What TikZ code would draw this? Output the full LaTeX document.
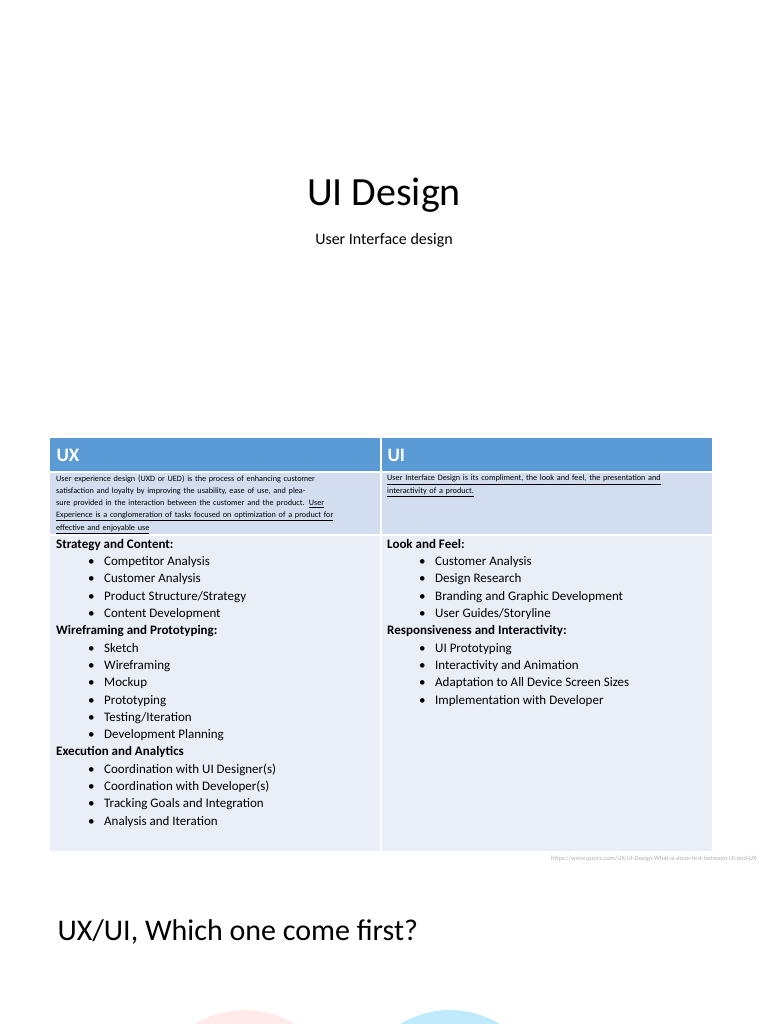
\documentclass[tikz,border=0pt]{standalone}
\usepackage{fontspec}
\setmainfont{Carlito}
\begin{document}
\begin{tikzpicture}[x=1pt,y=-1pt,
  hdr/.style={anchor=west,text=white,font=\fontsize{19}{22}\selectfont\bfseries},
  desc/.style={anchor=north west,align=left,text width=318pt,font=\fontsize{8.2}{12.2}\selectfont,inner sep=0pt},
  body/.style={anchor=north west,align=left,font=\fontsize{13}{17.3}\selectfont,inner sep=0pt}]
\useasboundingbox (0,0) rectangle (768,1024);
\fill[white] (0,0) rectangle (768,1024);
\begin{scope}
\clip (0,0) rectangle (768,1024);
\fill[pink!35] (245,1105) circle (95);
\fill[cyan!25] (450,1105) circle (95);
\end{scope}
\node (title) at (384,195) {\fontsize{40}{48}\selectfont UI Design};
\node (sub) at (384,240) {\fontsize{16}{19}\selectfont User Interface design};
% table
\fill[color={rgb,255:red,91;green,155;blue,213}] (50,438) rectangle (712,472);
\fill[color={rgb,255:red,210;green,222;blue,239}] (50,472) rectangle (712,535);
\fill[color={rgb,255:red,234;green,239;blue,247}] (50,535) rectangle (712,851);
\draw[white,line width=1.2pt] (381,438) -- (381,851);
\draw[white,line width=1.2pt] (50,472) -- (712,472) (50,535) -- (712,535);
\node[hdr] (ux) at (53,455) {UX};
\node[hdr] (ui) at (384,455) {UI};
\node[desc] (uxd) at (56,475) {User experience design (UXD or UED) is the process of enhancing customer satisfaction and loyalty by improving the usability, ease of use, and pleasure provided in the interaction between the customer and the product. \underline{User} \underline{Experience is a conglomeration of tasks focused on optimization of a product for} \underline{effective and enjoyable use}};
\node[desc] (uid) at (387,475) {\underline{User Interface Design is its compliment, the look and feel, the presentation and} \underline{interactivity of a product.}};
\def\it#1{\hspace*{32pt}\makebox[16pt][l]{\textbullet}#1}
\node[body] (uxb) at (56,539) {%
\textbf{Strategy and Content:}\\
\it{Competitor Analysis}\\
\it{Customer Analysis}\\
\it{Product Structure/Strategy}\\
\it{Content Development}\\
\textbf{Wireframing and Prototyping:}\\
\it{Sketch}\\
\it{Wireframing}\\
\it{Mockup}\\
\it{Prototyping}\\
\it{Testing/Iteration}\\
\it{Development Planning}\\
\textbf{Execution and Analytics}\\
\it{Coordination with UI Designer(s)}\\
\it{Coordination with Developer(s)}\\
\it{Tracking Goals and Integration}\\
\it{Analysis and Iteration}};
\node[body] (uib) at (387,539) {%
\textbf{Look and Feel:}\\
\it{Customer Analysis}\\
\it{Design Research}\\
\it{Branding and Graphic Development}\\
\it{User Guides/Storyline}\\
\textbf{Responsiveness and Interactivity:}\\
\it{UI Prototyping}\\
\it{Interactivity and Animation}\\
\it{Adaptation to All Device Screen Sizes}\\
\it{Implementation with Developer}};
\node[anchor=east,text=black!30,font=\fontsize{6.5}{8}\selectfont] (src) at (760,859) {https://www.quora.com/UX-UI-Design-What-is-done-first-between-UI-and-UX};
\node[anchor=west,font=\fontsize{30}{36}\selectfont] (q) at (54,932) {UX/UI, Which one come first?};
\end{tikzpicture}
\end{document}
